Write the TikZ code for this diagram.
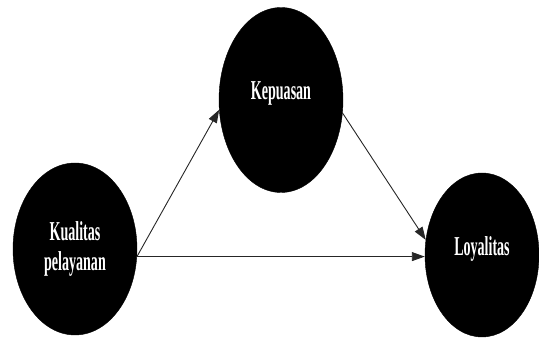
\documentclass[tikz,border=0pt]{standalone}
\usepackage{fontspec}
\setmainfont{Liberation Serif}
\usetikzlibrary{shapes.geometric,arrows.meta}
\tikzset{
  var/.style={ellipse, fill=black, draw=black, inner sep=0pt, text=white,
    font=\fontsize{26}{30}\selectfont\bfseries, align=center},
  arr/.style={draw=black!85, line width=0.9pt, -{Triangle[length=13pt,width=9pt]}}
}
\newcommand{\cond}[1]{\scalebox{0.54}[1.05]{#1}}
\begin{document}
\begin{tikzpicture}[x=1pt,y=-1pt]
\useasboundingbox (0,0) rectangle (539,347);
\node[var, minimum width=124pt, minimum height=172pt] (k) at (75,249) {\raisebox{3pt}{\cond{Kualitas}}\\[0pt]\raisebox{3pt}{\cond{pelayanan}}};
\node[var, minimum width=124pt, minimum height=185pt] (kep) at (281,100) {\raisebox{19pt}{\cond{Kepuasan}}};
\node[var, minimum width=114pt, minimum height=164pt] (l) at (482,255) {\raisebox{17pt}{\cond{Loyalitas}}};
\draw[arr] (k.-7) -- (kep.189);
\draw[arr] (k.-7) -- (k.-7 -| l.west);
\draw[arr] (kep.-12) -- (l.165);
\end{tikzpicture}
\end{document}
